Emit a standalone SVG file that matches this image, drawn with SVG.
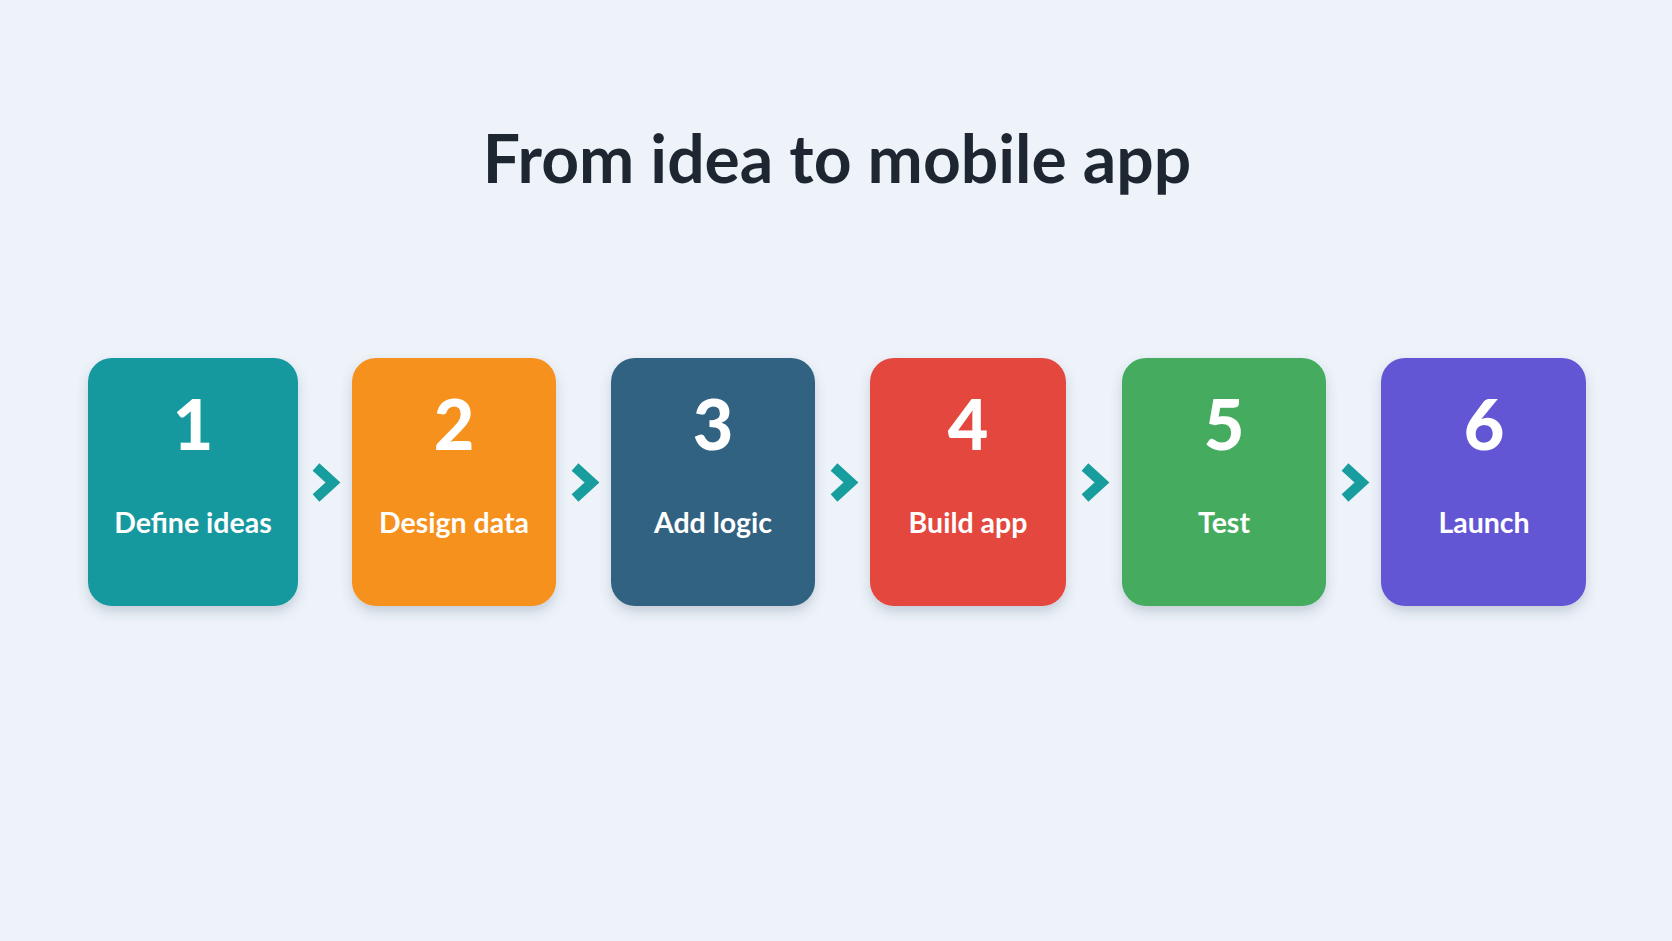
<svg xmlns="http://www.w3.org/2000/svg" width="1672" height="941" viewBox="0 0 1672 941">
<defs>
<filter id="sh" x="-20%" y="-20%" width="140%" height="150%">
<feDropShadow dx="0" dy="6" stdDeviation="6" flood-color="#3a4a60" flood-opacity="0.22"/>
</filter>
<style>
.title{font-family:Lato,"Noto Sans",sans-serif;font-weight:700;font-size:66px;fill:#1d2631;text-anchor:middle}
.num{font-family:Lato,"Noto Sans",sans-serif;font-weight:900;font-size:70px;fill:#ffffff;text-anchor:middle}
.lbl{font-family:Lato,"Noto Sans",sans-serif;font-weight:700;font-size:28.5px;fill:#ffffff;text-anchor:middle}
.box{filter:url(#sh)}
.chev{fill:none;stroke:#189d9f;stroke-width:10;stroke-linejoin:miter;stroke-linecap:butt}
</style>
</defs>
<rect width="1672" height="941" fill="#eef3fa"/>
<text class="title" x="837" y="183">From idea to mobile app</text>
<g id="connectors">
<polyline class="chev" points="316,467 333,482.5 316,498"/>
<polyline class="chev" points="575,467 592,482.5 575,498"/>
<polyline class="chev" points="834,467 851,482.5 834,498"/>
<polyline class="chev" points="1085,467 1102,482.5 1085,498"/>
<polyline class="chev" points="1345,467 1362,482.5 1345,498"/>
</g>
<g id="node1">
<rect class="box" x="88" y="358" width="210" height="248" rx="24" fill="#13989f"/>
<text class="num" x="193" y="450">1</text>
<text class="lbl" x="193" y="533">Define ideas</text>
</g>
<g id="node2">
<rect class="box" x="352" y="358" width="204" height="248" rx="24" fill="#f5911a"/>
<text class="num" x="454" y="450">2</text>
<text class="lbl" x="454" y="533">Design data</text>
</g>
<g id="node3">
<rect class="box" x="611" y="358" width="204" height="248" rx="24" fill="#336281"/>
<text class="num" x="713" y="450">3</text>
<text class="lbl" x="713" y="533">Add logic</text>
</g>
<g id="node4">
<rect class="box" x="870" y="358" width="196" height="248" rx="24" fill="#e4473e"/>
<text class="num" x="968" y="450">4</text>
<text class="lbl" x="968" y="533">Build app</text>
</g>
<g id="node5">
<rect class="box" x="1122" y="358" width="204" height="248" rx="24" fill="#44ab5f"/>
<text class="num" x="1224" y="450">5</text>
<text class="lbl" x="1224" y="533">Test</text>
</g>
<g id="node6">
<rect class="box" x="1381" y="358" width="205" height="248" rx="24" fill="#6257d5"/>
<text class="num" x="1484" y="450">6</text>
<text class="lbl" x="1484" y="533">Launch</text>
</g>
</svg>
